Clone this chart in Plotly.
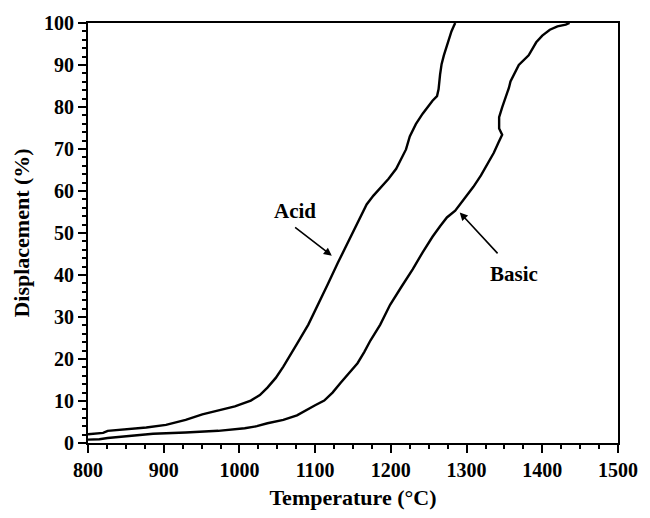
import plotly.graph_objects as go

acid_T = [800, 815, 820, 826, 850, 877, 903, 929, 951, 972, 994, 1015, 1027, 1037, 1048,
          1058, 1067, 1076, 1091, 1104, 1117, 1130, 1147, 1158, 1168, 1177, 1186, 1197,
          1207, 1214, 1220, 1225, 1233, 1242, 1250, 1255, 1261, 1263, 1265, 1267, 1270,
          1276, 1280, 1283, 1285]
acid_D = [2.1, 2.2, 2.4, 2.9, 3.2, 3.7, 4.3, 5.5, 6.8, 7.8, 8.7, 10.1, 11.4, 13.2, 15.5,
          18.2, 20.8, 23.6, 28.2, 32.9, 37.9, 42.9, 49.1, 53.3, 56.8, 58.9, 60.6, 62.9,
          65.3, 67.6, 69.9, 73.0, 75.9, 78.4, 80.4, 81.5, 82.6, 84.2, 87.7, 90.2, 92.3,
          96.1, 98.0, 99.2, 100]

basic_T = [800, 815, 826, 843, 886, 929, 972, 1007, 1023, 1037, 1058, 1076, 1085, 1091,
           1100, 1112, 1123, 1134, 1145, 1156, 1165, 1173, 1186, 1199, 1214, 1229, 1242,
           1255, 1265, 1274, 1285, 1298, 1309, 1319, 1328, 1336, 1342, 1347, 1343, 1343,
           1347, 1352, 1356, 1358, 1363, 1369, 1382, 1392, 1400, 1410, 1420, 1431, 1436]
basic_D = [0.8, 0.9, 1.2, 1.5, 2.2, 2.5, 2.9, 3.5, 4.0, 4.7, 5.5, 6.6, 7.5, 8.3,
           9.0, 10.1, 12.0, 14.4, 16.6, 19.0, 21.7, 24.4, 28.2, 32.9, 37.2, 41.4, 45.4,
           49.1, 51.6, 53.7, 55.3, 58.3, 61.0, 63.7, 66.5, 69.1, 71.5, 73.4, 74.9, 77.6,
           79.9, 82.4, 84.6, 86.1, 88.0, 90.0, 92.3, 95.4, 97.0, 98.4, 99.2, 99.6, 100]

x_ticks = [800, 900, 1000, 1100, 1200, 1300, 1400, 1500]
y_ticks = [0, 10, 20, 30, 40, 50, 60, 70, 80, 90, 100]

FONT = "Liberation Serif"

fig = go.Figure()
fig.add_trace(go.Scatter(x=acid_T, y=acid_D, mode="lines", name="Acid",
                         line=dict(color="black", width=2.4), showlegend=False))
fig.add_trace(go.Scatter(x=basic_T, y=basic_D, mode="lines", name="Basic",
                         line=dict(color="black", width=2.4), showlegend=False))

axis_common = dict(
    showgrid=False, zeroline=False, showline=True, linecolor="black", linewidth=2,
    mirror=True, ticks="outside", tickcolor="black", tickwidth=2, ticklen=8,
    tickfont=dict(family=FONT, size=20, color="black", weight="bold"),
)

fig.update_xaxes(range=[800, 1500], tickvals=x_ticks,
                 minor=dict(dtick=25, ticks="outside", ticklen=4, tickcolor="black", tickwidth=1.5),
                 title=dict(text="Temperature (°C)", standoff=10,
                            font=dict(family=FONT, size=22, color="black", weight="bold")),
                 **axis_common)
fig.update_yaxes(range=[0, 100], tickvals=y_ticks,
                 minor=dict(dtick=2, ticks="outside", ticklen=4, tickcolor="black", tickwidth=1.5),
                 title=dict(text="Displacement (%)", standoff=8,
                            font=dict(family=FONT, size=22, color="black", weight="bold")),
                 **axis_common)

fig.add_annotation(x=1122, y=44.6, ax=1071.6, ay=51.6, axref="x", ayref="y",
                   xref="x", yref="y", text="", showarrow=True, arrowhead=2,
                   arrowsize=1, arrowwidth=1.6, arrowcolor="black")
fig.add_annotation(x=1074, y=55.3, text="Acid", showarrow=False,
                   font=dict(family=FONT, size=21, color="black", weight="bold"))
fig.add_annotation(x=1291, y=54.9, ax=1342.8, ay=44.8, axref="x", ayref="y",
                   xref="x", yref="y", text="", showarrow=True, arrowhead=2,
                   arrowsize=1, arrowwidth=1.6, arrowcolor="black")
fig.add_annotation(x=1362, y=40.3, text="Basic", showarrow=False,
                   font=dict(family=FONT, size=21, color="black", weight="bold"))

fig.update_layout(width=650, height=518, margin=dict(l=88, r=20, t=20, b=66),
                  plot_bgcolor="white", paper_bgcolor="white")

fig.write_html("out.html")
